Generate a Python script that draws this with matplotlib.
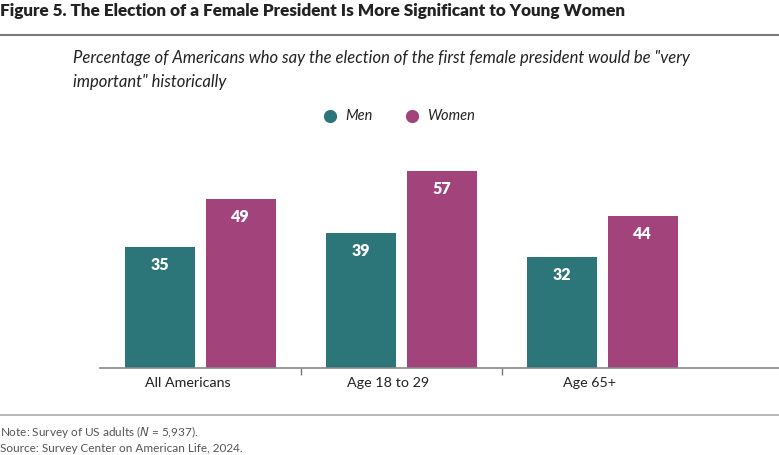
import matplotlib.pyplot as plt
import numpy as np

groups = ['All Americans', 'Age 18 to 29', 'Age 65+']
men = [35, 39, 32]
women = [49, 57, 44]
series_names = ['Men', 'Women']

teal = '#2c767a'
magenta = '#a2437c'

plt.rcParams['font.family'] = ['Lato', 'DejaVu Sans']

fig = plt.figure(figsize=(7.79, 4.55), dpi=100)
ax = fig.add_axes([100/779, 87/455, 679/779, 228/455])

x = np.arange(len(groups))
w = 0.35
b1 = ax.bar(x - 0.2, men, w, color=teal)
b2 = ax.bar(x + 0.2, women, w, color=magenta)

for bars, vals in ((b1, men), (b2, women)):
    for r, v in zip(bars, vals):
        ax.text(r.get_x() + r.get_width()/2, v - 5.2, str(v), ha='center', va='center',
                color='white', fontsize=11.5, fontweight='heavy')

ax.set_xlim(-0.5, 2.878)
ax.set_ylim(0, 66)
ax.set_yticks([])
ax.set_xticks([0.5, 1.5])
ax.set_xticklabels([])
ax.tick_params(axis='x', length=5, width=1, color='#777777', direction='out')
for i, g in enumerate(groups):
    ax.text(i - 0.065, -4.3, g, ha='center', va='center', fontsize=10.3, color='#222222')
for s in ['top', 'right', 'left']:
    ax.spines[s].set_visible(False)
ax.spines['bottom'].set_color('#888888')
ax.spines['bottom'].set_linewidth(1.2)

# title and rules
fig.text(0.0, 1 - 11/455, 'Figure 5. The Election of a Female President Is More Significant to Young Women',
         ha='left', va='center', fontsize=12.3, fontweight='heavy', color='#222222')
fig.add_artist(plt.Line2D([0, 1], [1 - 35/455, 1 - 35/455], color='#7a7a7a', lw=1.5))
fig.text(73/779, 1 - 58/455, 'Percentage of Americans who say the election of the first female president would be "very',
         ha='left', va='center', fontsize=12, style='italic', color='#222222')
fig.text(73/779, 1 - 82/455, 'important" historically',
         ha='left', va='center', fontsize=12, style='italic', color='#222222')

# legend
for cx, tx, col, name in ((330, 345, teal, series_names[0]), (412, 427, magenta, series_names[1])):
    fig.add_artist(plt.Line2D([cx/779], [1 - 116/455], marker='o', markersize=8.5, color=col, lw=0))
    fig.text(tx/779, 1 - 116/455, name, ha='left', va='center', fontsize=10.5, style='italic', color='#222222')

# footer
fig.add_artist(plt.Line2D([0, 1], [1 - 415/455, 1 - 415/455], color='#aaaaaa', lw=1.2))
fig.text(0.0, 1 - 432/455, 'Note: Survey of US adults ($\\it{N}$ = 5,937).', ha='left', va='center',
         fontsize=8.5, color='#555555')
fig.text(0.0, 1 - 449/455, 'Source: Survey Center on American Life, 2024.', ha='left', va='center',
         fontsize=8.5, color='#555555')

fig.savefig('out.png', dpi=100)
